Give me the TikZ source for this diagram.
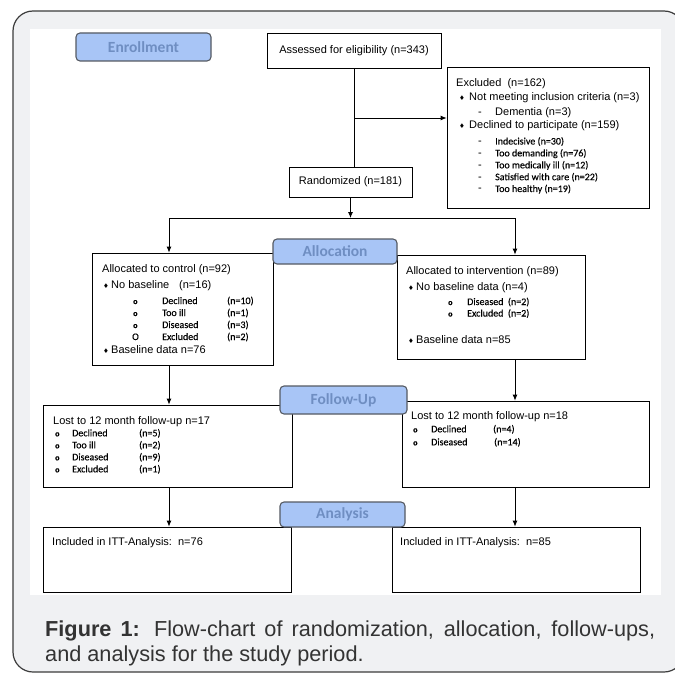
\documentclass[tikz,border=0pt]{standalone}
\usepackage{fontspec}
\setmainfont{Liberation Sans}
\newfontfamily\calfont{Carlito}
\newfontfamily\calsm[FakeBold=0.3]{Carlito}
\newfontfamily\djfont{DejaVu Sans}
\usetikzlibrary{arrows.meta}
\definecolor{framebg}{HTML}{F0F1F3}
\definecolor{framedraw}{HTML}{3C3C3C}
\definecolor{lblfill}{HTML}{A8C5F6}
\definecolor{lbldraw}{HTML}{555A63}
\definecolor{lbltext}{HTML}{6F8EC2}
\definecolor{captext}{HTML}{333333}
\newcommand\dia{{\djfont\fontsize{6.5}{7}\selectfont ♦}}
\newcommand\obul{{\bfseries\fontsize{8}{8}\selectfont o}}
\begin{document}
\begin{tikzpicture}[x=1pt,y=-1pt,
  box/.style={draw=black, line width=0.8pt, fill=white, inner sep=0pt},
  lbl/.style={draw=lbldraw, fill=lblfill, rounded corners=4pt, line width=1.1pt, text=lbltext, font=\calfont\bfseries\fontsize{15.5}{15.5}\selectfont, inner sep=0pt},
  tx/.style={anchor=base west, inner sep=0pt, font=\fontsize{11}{13}\selectfont},
  sm/.style={anchor=base west, inner sep=0pt, font=\calsm\fontsize{10}{12}\selectfont},
  arr/.style={-{Latex[length=6pt,width=5pt]}, line width=0.8pt},
  ln/.style={line width=0.8pt}]
\useasboundingbox (0,0) rectangle (675,674);
\begin{scope}
\clip (0,0) rectangle (675,674);
\draw[fill=framebg, draw=framedraw, line width=1.2pt, rounded corners=20pt] (13,11) rectangle (684,672);
\end{scope}
\fill[white] (30,29) rectangle (661,595);

% boxes
\node[box, minimum width=174pt, minimum height=35pt, font=\fontsize{11}{13}\selectfont] (assess) at (354,50.5) {Assessed for eligibility (n=343)};
\node[box, minimum width=202pt, minimum height=141pt] (excl) at (548,137.5) {};
\node[box, minimum width=123pt, minimum height=30pt, font=\fontsize{11}{13}\selectfont] (rand) at (350.5,182) {Randomized (n=181)};
\node[box, minimum width=181pt, minimum height=112pt] (ctrl) at (182.5,309) {};
\node[box, minimum width=188pt, minimum height=104pt] (intv) at (491,307) {};
\node[box, minimum width=249pt, minimum height=82pt] (fl) at (167.5,446) {};
\node[box, minimum width=247pt, minimum height=86pt] (fr) at (525.5,444) {};
\node[box, minimum width=248pt, minimum height=65pt] (al) at (167,559.5) {};
\node[box, minimum width=248pt, minimum height=65pt] (ar) at (516,559.5) {};

% connectors
\coordinate (ea) at (354,118);
\coordinate (j) at (350.5,218);
\coordinate (jl) at (169,218);
\coordinate (jr) at (515,218);
\draw[ln] (assess.south) -- (assess.south |- rand.north);
\draw[arr] (ea) -- (ea -| excl.west);
\draw[arr] (rand.south) -- (j);
\draw[ln] (jl) -- (jr);
\draw[arr] (jl) -- (jl |- ctrl.north);
\draw[arr] (jr) -- (jr |- intv.north);
\draw[arr] (jl |- ctrl.south) -- (jl |- fl.north);
\draw[arr] (jr |- intv.south) -- (jr |- fr.north);
\draw[arr] (jl |- fl.south) -- (jl |- al.north);
\draw[arr] (jr |- fr.south) -- (jr |- ar.north);

% stage labels
\node[lbl, minimum width=135pt, minimum height=28pt] (enr) at (143.5,47) {Enrollment};
\node[lbl, minimum width=124pt, minimum height=25pt] (alloc) at (335,251.5) {Allocation};
\node[lbl, minimum width=127pt, minimum height=28pt] (fu) at (343.5,400) {Follow-Up};
\node[lbl, minimum width=125pt, minimum height=25pt] (ana) at (342.5,514.5) {Analysis};

% excluded text
\node[tx] (e1) at (456,87) {Excluded\ \ (n=162)};
\node[tx] (e2b) at (459,101) {\dia};
\node[tx] (e2) at (469,101) {Not meeting inclusion criteria (n=3)};
\node[tx] (e3b) at (478,116) {-};
\node[tx] (e3) at (495,116) {Dementia (n=3)};
\node[tx] (e4b) at (459,129) {\dia};
\node[tx] (e4) at (469,129) {Declined to participate (n=159)};
\node[tx] (e5b) at (478,144.5) {-};
\node[sm] (e5) at (495,144.5) {Indecisive (n=30)};
\node[tx] (e6b) at (478,156.4) {-};
\node[sm] (e6) at (495,156.4) {Too demanding (n=76)};
\node[tx] (e7b) at (478,168.3) {-};
\node[sm] (e7) at (495,168.3) {Too medically ill (n=12)};
\node[tx] (e8b) at (478,180.2) {-};
\node[sm] (e8) at (495,180.2) {Satisfied with care (n=22)};
\node[tx] (e9b) at (478,192) {-};
\node[sm] (e9) at (495,192) {Too healthy (n=19)};

% control text
\node[tx] (c1) at (102,272) {Allocated to control (n=92)};
\node[tx] (c2b) at (103,288) {\dia};
\node[tx] (c2) at (111,288) {No baseline};
\node[tx] (c2n) at (179,288) {(n=16)};
\node[sm] (c3b) at (133,304) {\obul};
\node[sm] (c3) at (162,304) {Declined};
\node[sm] (c3n) at (227,304) {(n=10)};
\node[sm] (c4b) at (133,316) {\obul};
\node[sm] (c4) at (162,316) {Too ill};
\node[sm] (c4n) at (227,316) {(n=1)};
\node[sm] (c5b) at (133,328) {\obul};
\node[sm] (c5) at (162,328) {Diseased};
\node[sm] (c5n) at (227,328) {(n=3)};
\node[sm] (c6b) at (132,340) {O};
\node[sm] (c6) at (162,340) {Excluded};
\node[sm] (c6n) at (227,340) {(n=2)};
\node[tx] (c7b) at (103,353) {\dia};
\node[tx] (c7) at (111,353) {Baseline data n=76};

% intervention text
\node[tx] (i1) at (406,274) {Allocated to intervention (n=89)};
\node[tx] (i2b) at (408,290) {\dia};
\node[tx] (i2) at (416,290) {No baseline data (n=4)};
\node[sm] (i3b) at (448,305) {\obul};
\node[sm] (i3) at (467,305) {Diseased\ \ (n=2)};
\node[sm] (i4b) at (448,316.5) {\obul};
\node[sm] (i4) at (467,316.5) {Excluded\ \ (n=2)};
\node[tx] (i5b) at (408,343) {\dia};
\node[tx] (i5) at (416,343) {Baseline data n=85};

% follow-up left
\node[tx] (f1) at (53,424) {Lost to 12 month follow-up n=17};
\node[sm] (f2b) at (55,436.3) {\obul};
\node[sm] (f2) at (72,436.3) {Declined};
\node[sm] (f2n) at (139,436.3) {(n=5)};
\node[sm] (f3b) at (55,448.3) {\obul};
\node[sm] (f3) at (72,448.3) {Too ill};
\node[sm] (f3n) at (139,448.3) {(n=2)};
\node[sm] (f4b) at (55,460.3) {\obul};
\node[sm] (f4) at (72,460.3) {Diseased};
\node[sm] (f4n) at (139,460.3) {(n=9)};
\node[sm] (f5b) at (55,472.3) {\obul};
\node[sm] (f5) at (72,472.3) {Excluded};
\node[sm] (f5n) at (139,472.3) {(n=1)};

% follow-up right
\node[tx] (g1) at (411,419) {Lost to 12 month follow-up n=18};
\node[sm] (g2b) at (413,432.3) {\obul};
\node[sm] (g2) at (431,432.3) {Declined};
\node[sm] (g2n) at (493,432.3) {(n=4)};
\node[sm] (g3b) at (413,445.3) {\obul};
\node[sm] (g3) at (431,445.3) {Diseased};
\node[sm] (g3n) at (494,445.3) {(n=14)};

% analysis
\node[tx] (a1) at (52,545) {Included in ITT-Analysis:\ \ n=76};
\node[tx] (a2) at (400,545) {Included in ITT-Analysis:\ \ n=85};

% caption
\node[anchor=base west, inner sep=0pt, font=\fontsize{21.7}{25}\selectfont, text=captext] (cap1) at (45,636) {\makebox[610pt][s]{\textbf{Figure 1:} Flow-chart of randomization, allocation, follow-ups,}};
\node[anchor=base west, inner sep=0pt, font=\fontsize{21.7}{25}\selectfont, text=captext] (cap2) at (45,661) {and analysis for the study period.};
\end{tikzpicture}
\end{document}
